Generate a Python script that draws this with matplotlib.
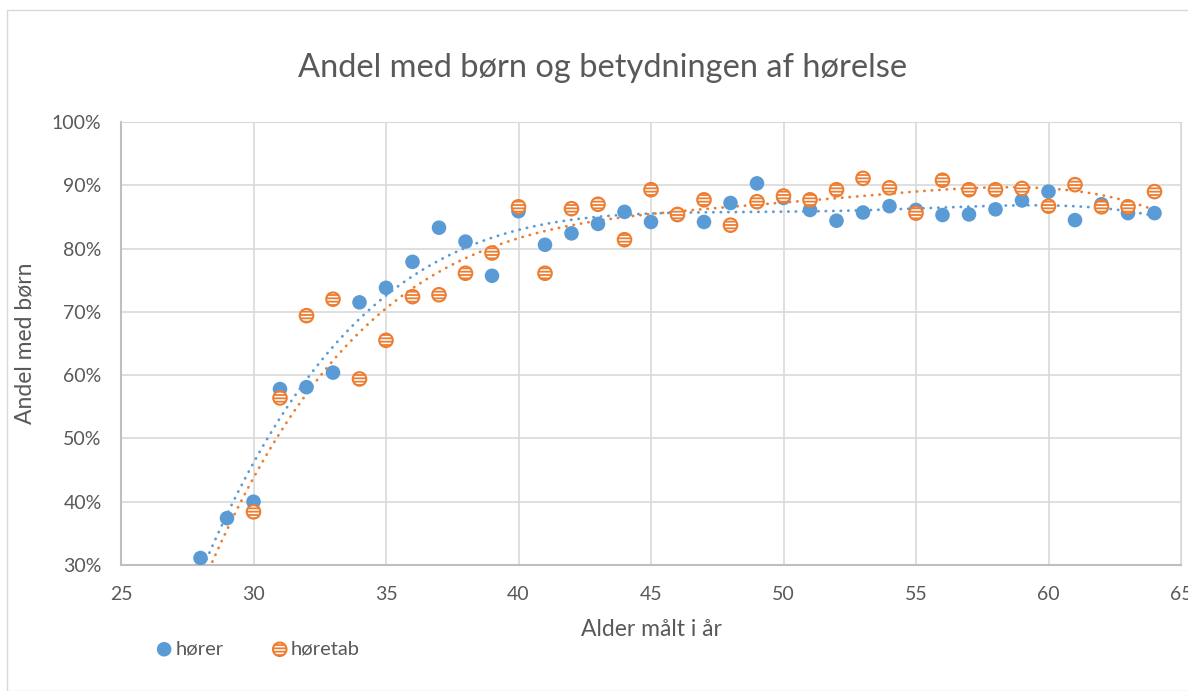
import numpy as np
import matplotlib
matplotlib.use("Agg")
import matplotlib.pyplot as plt
from matplotlib.patches import Rectangle
from matplotlib.ticker import FuncFormatter

plt.rcParams['font.family'] = ['Lato', 'DejaVu Sans']

ages = list(range(28, 65))
hoerer = [31.1, 37.4, 40.0, 57.8, 58.1, 60.4, 71.5, 73.8, 77.9, 83.3, 81.1, 75.7,
          85.9, 80.6, 82.4, 83.9, 85.8, 84.2, 85.3, 84.2, 87.2, 90.3, 88.0, 86.1,
          84.4, 85.7, 86.7, 86.1, 85.3, 85.4, 86.2, 87.6, 89.0, 84.5, 87.0, 85.6, 85.6]
hoeretab = [27.5, 28.5, 38.4, 56.4, 69.4, 72.0, 59.4, 65.5, 72.4, 72.7, 76.1, 79.3,
            86.6, 76.1, 86.3, 87.0, 81.4, 89.3, 85.4, 87.7, 83.7, 87.4, 88.3, 87.7,
            89.3, 91.1, 89.6, 85.6, 90.8, 89.3, 89.3, 89.5, 86.7, 90.1, 86.6, 86.6, 89.0]

series_names = ["hører", "høretab"]
blue = "#5B9BD5"
orange = "#ED7D31"
grid_c = "#D9D9D9"
text_c = "#595959"
TREND_DEG = 4

fig = plt.figure(figsize=(11.88, 6.91), dpi=100)
fig.patches.append(Rectangle((7/1188, 0), 1, 1 - 10/691, transform=fig.transFigure,
                             fill=False, edgecolor=grid_c, linewidth=1))
ax = fig.add_axes([121/1188, 1 - 565/691, (1181 - 121)/1188, (565 - 122)/691])

x = np.array(ages, dtype=float)
for vals, col in [(hoerer, blue), (hoeretab, orange)]:
    coef = np.polyfit(x, np.array(vals), TREND_DEG)
    xs = np.linspace(x.min(), x.max(), 400)
    ax.plot(xs, np.polyval(coef, xs), color=col, lw=2.0,
            linestyle=(0, (0.1, 2.6)), dash_capstyle='round', zorder=2)

ax.scatter(ages, hoerer, s=110, color=blue, edgecolors='none', zorder=3,
           label=series_names[0])
plt.rcParams['hatch.linewidth'] = 1.3
ax.scatter(ages, hoeretab, s=95, facecolor='white', edgecolors=orange,
           linewidths=1.5, hatch='-----', zorder=4, label=series_names[1])

ax.set_xlim(25, 65)
ax.set_ylim(30, 100)
ax.set_xticks(range(25, 66, 5))
ax.set_yticks(range(30, 101, 10))
ax.yaxis.set_major_formatter(FuncFormatter(lambda v, p: f"{v:.0f}%"))
ax.grid(True, color=grid_c, linewidth=1.2, zorder=0)
ax.set_axisbelow(True)
for s in ['top', 'right']:
    ax.spines[s].set_color(grid_c)
for s in ['left', 'bottom']:
    ax.spines[s].set_color('#BFBFBF')
    ax.spines[s].set_linewidth(1.5)
ax.tick_params(length=0, labelsize=14, colors=text_c)
ax.tick_params(axis='x', pad=15)
ax.tick_params(axis='y', pad=14)

ax.set_xlabel("Alder målt i år", fontsize=16.5, color=text_c, labelpad=12)
ax.set_ylabel("Andel med børn", fontsize=16.5, color=text_c, labelpad=12)
fig.text(603/1188, 1 - 68/691, "Andel med børn og betydningen af hørelse",
         ha='center', va='center', fontsize=23.5, color=text_c)

fig.legend(loc='center left', bbox_to_anchor=(146/1188, 1 - 649/691), ncol=2,
           frameon=False, handlelength=0.8, handletextpad=0.15, columnspacing=2.4,
           borderpad=0, fontsize=14.5, labelcolor=text_c, scatterpoints=1)

fig.savefig("out.png", dpi=100)
